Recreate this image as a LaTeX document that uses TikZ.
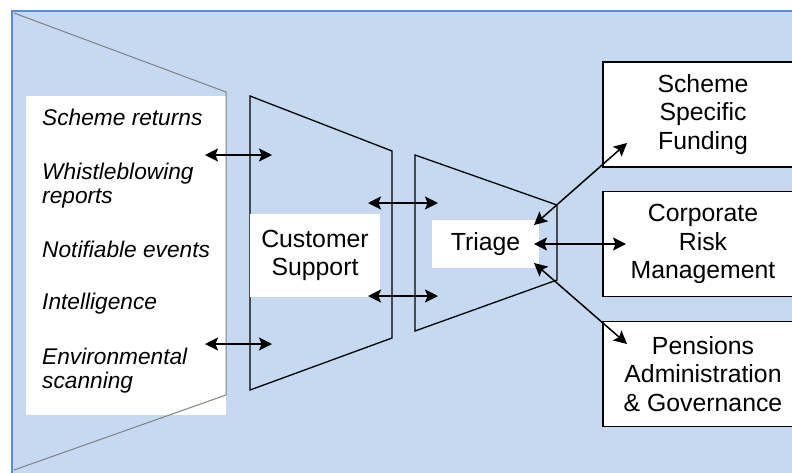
\documentclass[tikz,border=0pt]{standalone}
\usepackage{fontspec}
\setmainfont{Liberation Sans}
\usetikzlibrary{arrows.meta}
\definecolor{paleblue}{RGB}{198,217,241}
\definecolor{edgeblue}{RGB}{85,142,213}
\definecolor{funnelgray}{RGB}{128,128,128}
\newcommand{\bigtxt}{\fontsize{24.8}{28.5}\selectfont}
\newcommand{\smalltxt}{\fontsize{22.7}{24}\selectfont\itshape}

\begin{document}
\begin{tikzpicture}[x=1pt, y=-1pt, line join=miter, >={Stealth[length=13pt,width=13pt,inset=2.5pt]}]
\tikzset{
  feed/.style={font=\smalltxt, anchor=base west, inner sep=0pt, align=left},
  pad/.style={fill=white, inner sep=0pt, align=center, font=\bigtxt},
  unit/.style={draw, fill=white, line width=1.3pt, minimum width=200pt, minimum height=105pt, inner sep=0pt, align=center, font=\bigtxt},
  stage/.style={draw, line width=1.3pt},
  link/.style={<->, line width=1.5pt}
}
\useasboundingbox (0,0) rectangle (792,472);
% background panel
\fill[paleblue] (12,11) rectangle (810,480);
\draw[edgeblue, line width=1.6pt] (12,480) -- (12,11) -- (810,11);
% sources (y = baseline of the last line)
\node[fill=white, minimum width=200pt, minimum height=319pt, inner sep=0pt] (inputs) at (126,255.5) {};
\draw[funnelgray, line width=1pt] (14,13) -- (226,92) -- (226,395) -- (14,470);
\foreach \y/\t [count=\i] in {125/Scheme returns, 203/{Whistleblowing\\reports}, 257/Notifiable events, 309/Intelligence, 388/{Environmental\\scanning}}
  \node[feed] (src\i) at (42,\y) {\t};
% funnels
\draw[stage] (250,96) -- (392,151) -- (392,338) -- (250,390) -- cycle;
\draw[stage] (415,155) -- (557,205) -- (557,280) -- (415,331) -- cycle;
\node[pad, minimum width=130pt, minimum height=83pt] (support) at (315,255.5) {Customer\\Support};
\node[pad, minimum width=107pt, minimum height=48pt] (triage) at (485.5,244) {Triage};
% teams
\node[unit] (funding) at (703,114.5) {Scheme\\Specific\\Funding};
\node[unit] (risk) at (703,244) {Corporate\\Risk\\Management};
\node[unit] (admin) at (703,374) {Pensions\\Administration\\\& Governance};
% arrow ends
\coordinate (s1) at (205,155); \coordinate (c1) at (272,155);
\coordinate (s2) at (205,344); \coordinate (c2) at (272,344);
\coordinate (c3) at (368,203); \coordinate (t3) at (438,203);
\coordinate (c4) at (368,296); \coordinate (t4) at (438,296);
\coordinate (t5) at (534,225); \coordinate (f5) at (627,143);
\coordinate (t6) at (534,244); \coordinate (r6) at (626,244);
\coordinate (t7) at (534,263); \coordinate (a7) at (627,344);
\foreach \p/\q in {s1/c1, s2/c2, c3/t3, c4/t4, t5/f5, t6/r6, t7/a7}
  \draw[link] (\p) -- (\q);
\end{tikzpicture}
\end{document}
